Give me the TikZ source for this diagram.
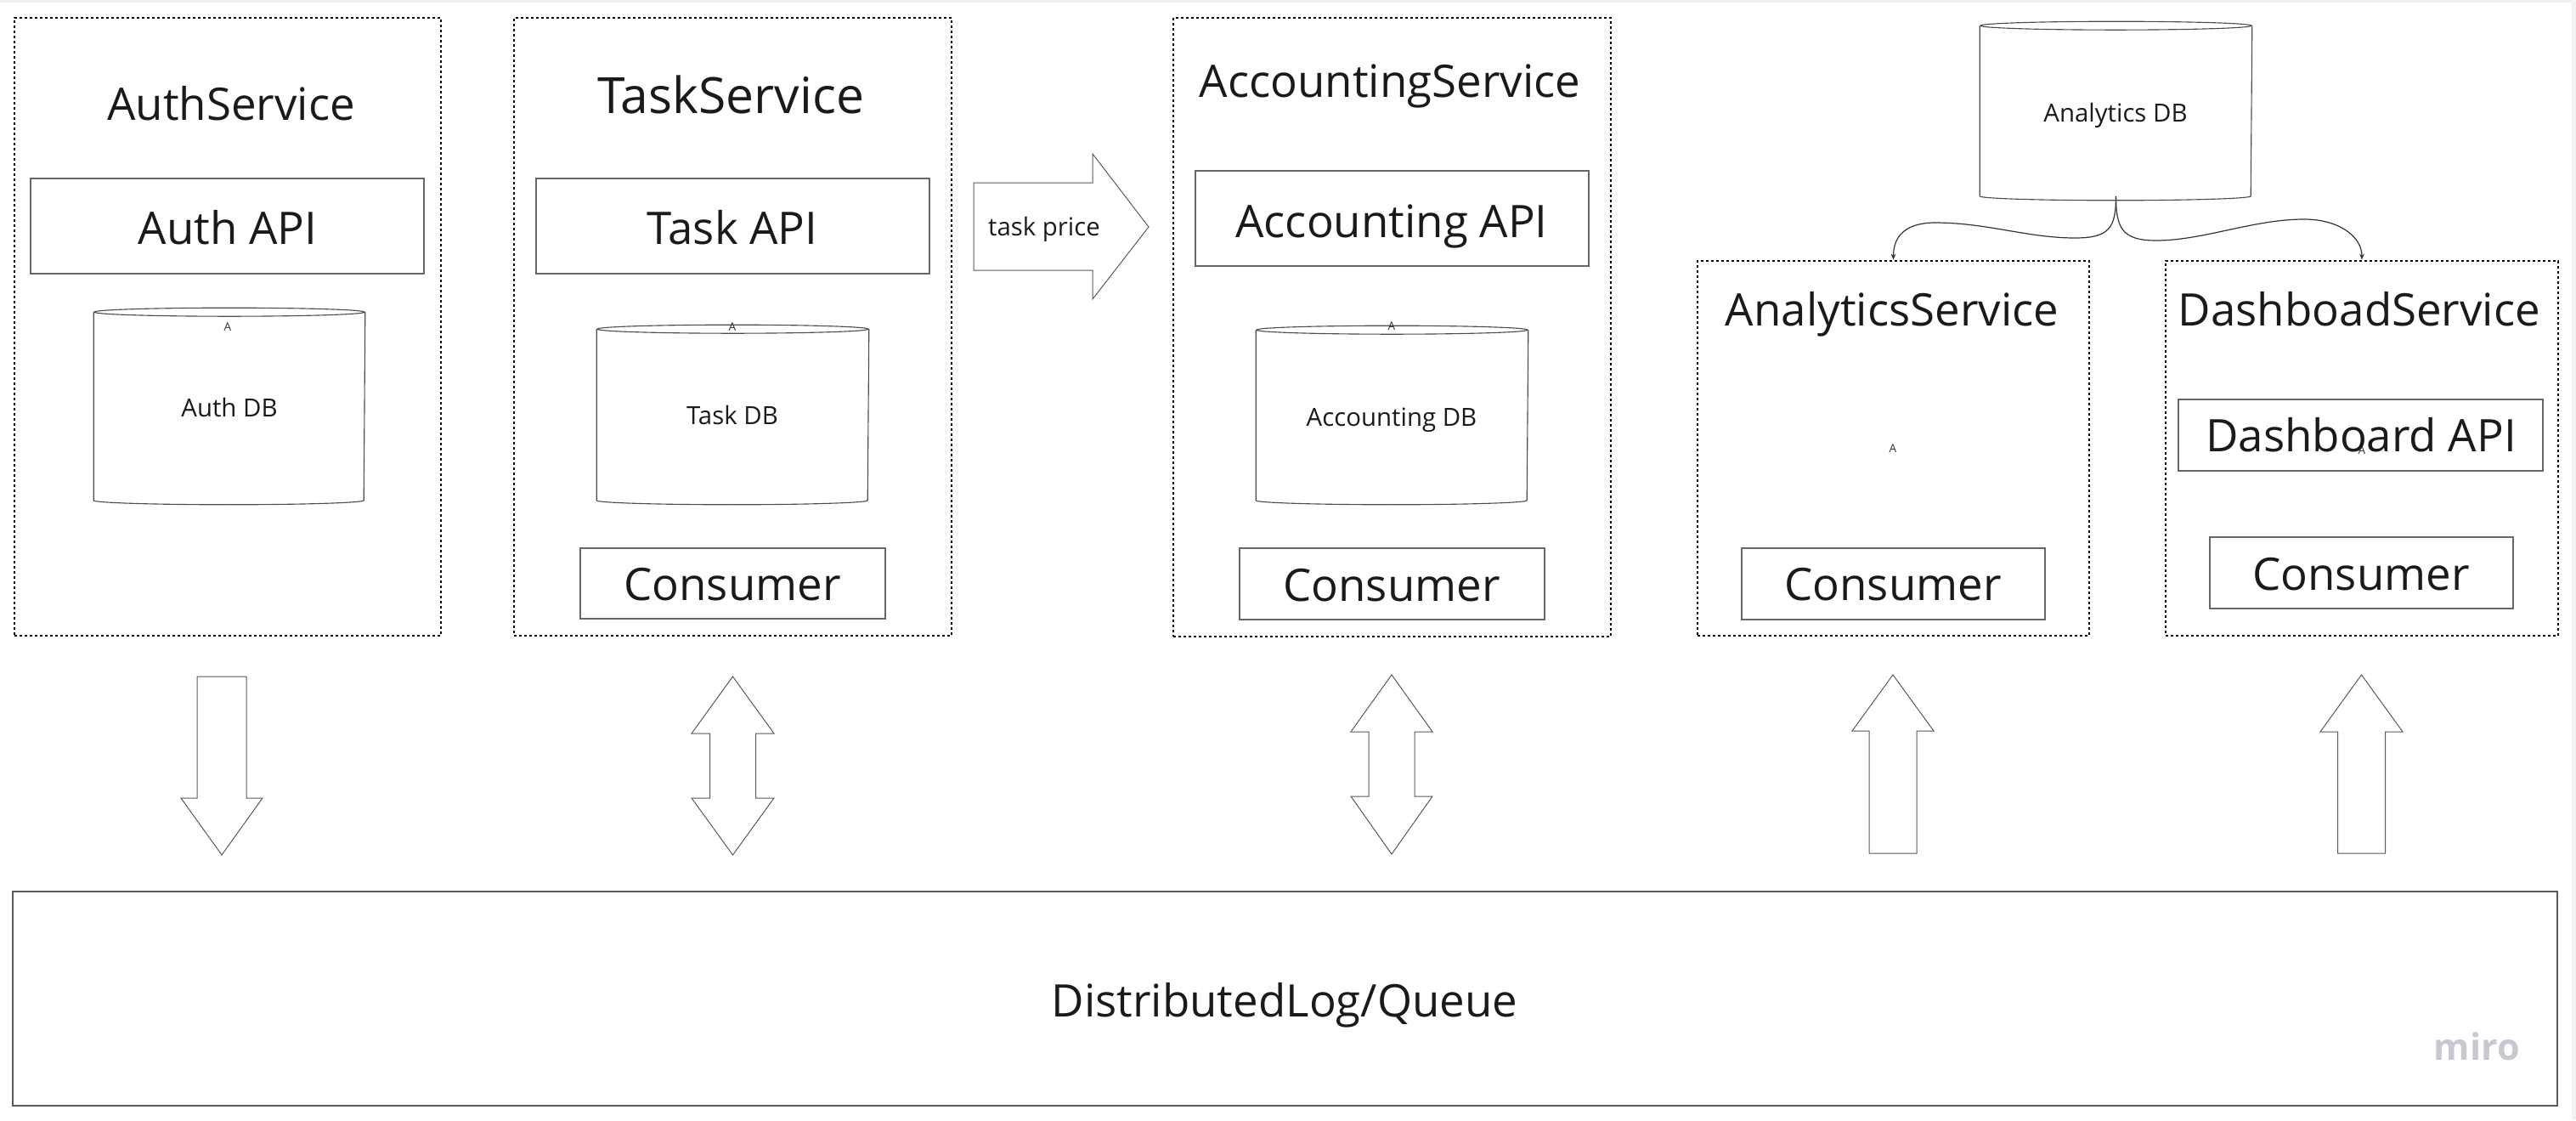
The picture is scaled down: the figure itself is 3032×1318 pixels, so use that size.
\documentclass[tikz,border=0pt]{standalone}
\usepackage{fontspec}
\setmainfont{Open Sans}
\usetikzlibrary{fit,arrows.meta,calc}
\definecolor{mirogray}{HTML}{C8C8D2}
\definecolor{ink}{HTML}{1A1A1A}
\newcommand\bigtxt{\fontsize{13.2pt}{16pt}\selectfont}
\newcommand\biggertxt{\fontsize{14.7pt}{17pt}\selectfont}
\newcommand\smalltxt{\fontsize{7.35pt}{9pt}\selectfont}
\newcommand\tinytxt{\fontsize{3.4pt}{4pt}\selectfont}
\newcommand\dbcyl[5]{%
  \node[inner sep=0pt, fit={(#2,#3)(#4,#5)}] (#1) {};
  \draw[dbline] (#1.north west) -- (#1.south west)
     arc[start angle=180, end angle=0, x radius={(#4-#2)/2}, y radius=5] -- (#1.north east);
  \draw[dbline] (#1.north) ellipse[x radius={(#4-#2)/2}, y radius=5];
}
\begin{document}
\begin{tikzpicture}[x=0.25pt, y=-0.25pt,
  svc/.style={draw=black, line width=0.65pt, dash pattern=on 0.75pt off 0.75pt, inner sep=0pt},
  box/.style={draw=black!60, line width=0.3pt, inner sep=0pt},
  qbox/.style={draw=black!65, line width=0.55pt, inner sep=0pt},
  dbline/.style={draw=black!70, line width=0.28pt},
  blockarrow/.style={draw=black!65, line width=0.25pt, line join=miter},
  conn/.style={draw=black!80, line width=0.3pt, -{Stealth[length=1.8pt, width=1.4pt]}},
  txt/.style={inner sep=0pt, anchor=base, text=ink},
  tiny/.style={inner sep=0pt, text=black!80, font=\tinytxt}
]
\useasboundingbox (0,0) rectangle (3032,1318);
\fill[black!6] (0,0) rectangle (3032,3);
\fill[black!5] (3027,0) rectangle (3032,1318);

% ---------- AuthService ----------
\node[svc, fit={(17,21)(519,748)}] (auth) {};
\node[txt, font=\bigtxt] (authT) at (272,141) {AuthService};
\node[box, fit={(36,210)(499,322)}] (authapi) {};
\node[txt, font=\bigtxt] (authapiT) at (268,287) {Auth API};
\dbcyl{authdb}{111}{368}{429}{588}
\node[tiny] (authA) at (268,385) {A};
\node[txt, font=\smalltxt] (authdbT) at (270,490) {Auth DB};

% ---------- TaskService ----------
\node[svc, fit={(605,21)(1120,748)}] (task) {};
\node[txt, font=\biggertxt] (taskT) at (860,133) {TaskService};
\node[box, fit={(631,210)(1094,322)}] (taskapi) {};
\node[txt, font=\bigtxt] (taskapiT) at (862,287) {Task API};
\dbcyl{taskdb}{703}{388}{1022}{588}
\node[tiny] (taskA) at (862,385) {A};
\node[txt, font=\smalltxt] (taskdbT) at (862,499) {Task DB};
\node[box, fit={(683,645)(1042,728)}] (taskcons) {};
\node[txt, font=\bigtxt] (taskconsT) at (862,706) {Consumer};

% ---------- task price arrow ----------
\draw[blockarrow] (1146,215) -- (1286,215) -- (1286,181) -- (1352,267)
   -- (1286,352) -- (1286,318) -- (1146,318) -- cycle;
\node[txt, font=\smalltxt] (priceT) at (1229,277) {task price};

% ---------- AccountingService ----------
\node[svc, fit={(1381,21)(1896,749)}] (acc) {};
\node[txt, font=\bigtxt] (accT) at (1636,114) {AccountingService};
\node[box, fit={(1407,201)(1870,313)}] (accapi) {};
\node[txt, font=\bigtxt] (accapiT) at (1638,279) {Accounting API};
\dbcyl{accdb}{1479}{389}{1798}{588}
\node[tiny] (accA) at (1638,384) {A};
\node[txt, font=\smalltxt] (accdbT) at (1638,501) {Accounting DB};
\node[box, fit={(1459,645)(1818,729)}] (acccons) {};
\node[txt, font=\bigtxt] (accconsT) at (1638,707) {Consumer};

% ---------- Analytics DB ----------
\dbcyl{adb}{2331}{31}{2650}{230}
\node[txt, font=\smalltxt] (adbT) at (2490,143) {Analytics DB};

% ---------- AnalyticsService ----------
\node[svc, fit={(1998,307)(2459,748)}] (ana) {};
\node[txt, font=\bigtxt] (anaT) at (2227,383) {AnalyticsService};
\node[tiny] (anaA) at (2228,528) {A};
\node[box, fit={(2050,645)(2407,729)}] (anacons) {};
\node[txt, font=\bigtxt] (anaconsT) at (2228,706) {Consumer};

% ---------- DashboadService ----------
\node[svc, fit={(2549,307)(3011,748)}] (dash) {};
\node[txt, font=\bigtxt] (dashT) at (2777,383) {DashboadService};
\node[box, fit={(2564,470)(2993,554)}] (dashapi) {};
\node[tiny] (dashA) at (2780,530) {A};
\node[txt, font=\bigtxt] (dashapiT) at (2779,531) {Dashboard API};
\node[box, fit={(2601,632)(2958,716)}] (dashcons) {};
\node[txt, font=\bigtxt] (dashconsT) at (2779,694) {Consumer};

% ---------- connectors from Analytics DB ----------
\coordinate (lw1) at (2442,280);
\coordinate (lw2) at (2278,262);
\coordinate (rw1) at (2538,283);
\coordinate (rw2) at (2712,258);
\draw[conn] (adb.south) .. controls +(0,38) and +(40,0) .. (lw1)
   .. controls +(-55,0) and +(60,0) .. (lw2)
   .. controls +(-35,0) and +(0,-28) .. (ana.north);
\draw[conn] (adb.south) .. controls +(0,38) and +(-40,0) .. (rw1)
   .. controls +(55,0) and +(-60,0) .. (rw2)
   .. controls +(40,0) and +(0,-28) .. (dash.north);

% ---------- Queue ----------
\node[qbox, fit={(15,1049)(3010,1301)}] (queue) {};
\node[txt, font=\bigtxt] (queueT) at (1512,1196) {DistributedLog/Queue};
\node[inner sep=0pt, anchor=base west, text=mirogray, font=\fontsize{10.8pt}{13pt}\selectfont\bfseries] (miro) at (2864,1247) {miro};

% ---------- block arrows ----------
\draw[blockarrow] (232,796) -- (290,796) -- (290,939) -- (309,939) -- (261,1006)
   -- (213,939) -- (232,939) -- cycle;
\draw[blockarrow] (862.5,796) -- (911,863) -- (889.5,863) -- (889.5,939) -- (911,939)
   -- (862.5,1006) -- (814,939) -- (835.5,939) -- (835.5,863) -- (814,863) -- cycle;
\draw[blockarrow] (1638,794) -- (1686,861) -- (1665,861) -- (1665,937) -- (1686,937)
   -- (1638,1005) -- (1590,937) -- (1611,937) -- (1611,861) -- (1590,861) -- cycle;
\draw[blockarrow] (2228,794) -- (2276,860) -- (2256,860) -- (2256,1004) -- (2200,1004)
   -- (2200,860) -- (2180,860) -- cycle;
\draw[blockarrow] (2779.5,794) -- (2828,861) -- (2807.5,861) -- (2807.5,1004) -- (2751.5,1004)
   -- (2751.5,861) -- (2731,861) -- cycle;
\end{tikzpicture}
\end{document}
